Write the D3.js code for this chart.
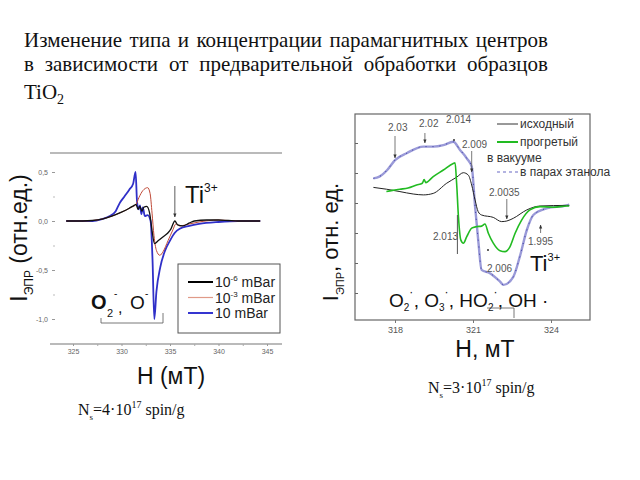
<!DOCTYPE html>
<html><head><meta charset="utf-8">
<script src="https://cdn.jsdelivr.net/npm/d3@7"></script>
<style>html,body{margin:0;padding:0;background:#fff;}svg{display:block;}</style>
</head><body>
<svg id="c" width="640" height="480"></svg>
<script>
// ---------- DATA ----------
const titleLines = ["Изменение типа и концентрации парамагнитных центров",
                    "в зависимости от предварительной обработки образцов"];
const leftXTicks = [325, 330, 335, 340, 345];
const leftYTicks = [0.5, 0, -0.5, -1];
const leftYMinor = [0.25, -0.25, -0.75];
const leftXMinor = [327.5, 332.5, 337.5, 342.5];
const leftLegend = [["-6", "#000", 2], ["-3", "#e09a88", 1.2], ["", "#3535d0", 2]];
// 10^-6 mBar
const leftBlack = [[324.3,0],[326,0],[327,0.005],[328,0.02],[329,0.05],[330,0.09],[330.8,0.13],[331.3,0.16],[331.5,0.17],[331.7,0.12],[331.9,0.15],[332.1,0.1],[332.3,0.14],[332.6,0.15],[332.9,0.08],[333.15,-0.1],[333.4,-0.23],[333.8,-0.2],[334.3,-0.16],[334.8,-0.12],[335.1,-0.08],[335.5,0.0],[335.8,-0.04],[336.3,-0.05],[337,-0.02],[337.5,0],[338.8,0.01],[340,0.01],[341,0.005],[342,0],[344.3,0]];
// 10^-3 mBar
const leftRed = [[324.3,0],[326,0],[327,0.005],[328,0.02],[329,0.05],[330,0.09],[331,0.14],[331.5,0.17],[331.8,0.24],[332.2,0.31],[332.7,0.34],[332.95,0.28],[333.15,0.08],[333.35,-0.15],[333.6,-0.3],[333.95,-0.35],[334.3,-0.31],[334.8,-0.2],[335.3,-0.09],[335.6,-0.03],[336,-0.05],[337,-0.03],[338,-0.01],[340,0.01],[342,0],[344.3,0]];
// 10 mBar
const leftBlue = [[324.3,0],[326,0],[327,0],[328,0.02],[328.8,0.05],[329.4,0.1],[329.8,0.18],[330.3,0.25],[330.8,0.32],[331.2,0.38],[331.45,0.5],[331.6,0.2],[331.75,0.12],[331.9,0.16],[332.05,0.07],[332.2,0.14],[332.4,0.05],[332.7,0.06],[333.0,0.0],[333.2,-0.4],[333.38,-1.0],[333.6,-0.72],[334,-0.47],[334.5,-0.3],[335,-0.2],[335.5,-0.12],[336,-0.08],[337,-0.05],[338,-0.03],[340,-0.01],[342,0],[344.3,0]];

const rightXTicks = [318, 321, 324];
const rightYTicks = [0, 1, 2, 3, 4, 5];
const rightLegend = [["исходный", "#333", 1, null], ["прогретый", "#22bb22", 2, null], ["в парах этанола", "#9a9ad8", 1.6, "3,3"]];
// исходный
const rightOrig = [[317.17,3.52],[317.67,3.46],[318.19,3.38],[318.7,3.3],[319.09,3.27],[319.47,3.32],[319.99,3.66],[320.37,3.86],[320.63,4.01],[320.82,3.93],[320.95,3.6],[321.08,3.1],[321.2,2.71],[321.33,2.6],[321.78,2.52],[322.1,2.38],[322.3,2.4],[322.55,2.49],[323.07,2.77],[323.58,2.9],[324.6,2.92],[324.7,2.92]];
// прогретый в вакууме
const rightGreen = [[317.67,3.38],[317.9,3.42],[318.19,3.46],[318.5,3.5],[318.83,3.6],[319.05,3.66],[319.12,3.78],[319.18,3.68],[319.47,3.88],[319.86,4.1],[320.24,4.32],[320.31,4.34],[320.37,3.66],[320.44,2.54],[320.53,1.77],[320.63,1.66],[320.76,1.88],[320.95,2.16],[321.13,2.21],[321.33,2.23],[321.46,2.3],[321.59,1.99],[321.78,1.66],[322.04,1.41],[322.23,1.38],[322.42,1.54],[322.62,1.99],[322.87,2.43],[323.19,2.77],[323.58,2.88],[324.09,2.86],[324.6,2.9],[324.7,2.9]];
// в парах этанола
const rightEth = [[317.17,3.82],[317.4,3.88],[317.7,4.1],[318.0,4.43],[318.45,4.66],[319.09,4.88],[319.47,4.88],[319.86,4.93],[320.24,5.04],[320.5,4.77],[320.76,4.49],[320.95,4.21],[321.08,2.88],[321.2,1.77],[321.33,0.77],[321.65,0.66],[322.04,0.38],[322.17,0.27],[322.55,0.54],[322.8,1.21],[323.07,2.1],[323.32,2.6],[323.83,2.82],[324.6,2.92],[324.7,2.95]];

// ---------- DRAW ----------
const svg = d3.select("#c");
const sans = "'Liberation Sans'";
const serif = "'Liberation Serif'";

// Title, justified lines
function justify(words, x0, x1, y, size) {
  const g = svg.append("g");
  const nodes = words.map(w => g.append("text").attr("y", y).style("font-family", serif)
    .attr("font-size", size).attr("fill", "#111").text(w));
  const widths = nodes.map(n => n.node().getComputedTextLength());
  const gap = (x1 - x0 - d3.sum(widths)) / (words.length - 1);
  let x = x0;
  nodes.forEach((n, i) => { n.attr("x", x); x += widths[i] + gap; });
}
justify(titleLines[0].split(" "), 24, 548, 47, 21);
justify(titleLines[1].split(" "), 24, 548, 71, 21);
const t3 = svg.append("text").attr("x", 24).attr("y", 99).style("font-family", serif).attr("font-size", 21).attr("fill", "#111");
t3.append("tspan").text("TiO");
t3.append("tspan").attr("dy", 5).attr("font-size", 14).text("2");

// ---------- LEFT CHART ----------
const lx = d3.scaleLinear().domain([325, 345]).range([73, 267]);
const ly = d3.scaleLinear().domain([0.5, -1]).range([172, 319]);
const L = svg.append("g");
L.append("line").attr("x1", 50).attr("x2", 282).attr("y1", 153).attr("y2", 153).attr("stroke", "#777").attr("stroke-width", 1.2);
L.append("line").attr("x1", 50).attr("x2", 282).attr("y1", 344).attr("y2", 344).attr("stroke", "#777").attr("stroke-width", 1.2);
const lxa = L.append("g").attr("transform", "translate(0,344)")
  .call(d3.axisBottom(lx).tickValues(leftXTicks).tickSize(2).tickPadding(3));
lxa.select(".domain").remove();
lxa.selectAll("text").style("font-family", sans).attr("font-size", 7).attr("fill", "#666");
lxa.selectAll("line").attr("stroke", "#999");
L.append("g").attr("transform", "translate(0,344)")
  .call(d3.axisBottom(lx).tickValues(leftXMinor).tickSize(2).tickFormat(""))
  .call(g => g.select(".domain").remove()).selectAll("line").attr("stroke", "#aaa");
const lya = L.append("g").attr("transform", "translate(55,0)")
  .call(d3.axisLeft(ly).tickValues(leftYTicks).tickSize(3).tickPadding(4)
    .tickFormat(d => d3.format(".1f")(d).replace(".", ",").replace("−", "-")));
lya.select(".domain").remove();
lya.selectAll("text").style("font-family", sans).attr("font-size", 7).attr("fill", "#666");
lya.selectAll("line").attr("stroke", "#999");
L.append("g").attr("transform", "translate(55,0)")
  .call(d3.axisLeft(ly).tickValues(leftYMinor).tickSize(2).tickFormat(""))
  .call(g => g.select(".domain").remove()).selectAll("line").attr("stroke", "#bbb");

const lline = d3.line().x(d => lx(d[0])).y(d => ly(d[1])).curve(d3.curveMonotoneX);
L.append("path").datum(leftBlue).attr("d", lline).attr("fill", "none").attr("stroke", "#3030c8").attr("stroke-width", 1.8);
L.append("path").datum(leftRed).attr("d", lline).attr("fill", "none").attr("stroke", "#c04a38").attr("stroke-width", 1.0);
L.append("path").datum(leftBlack).attr("d", lline).attr("fill", "none").attr("stroke", "#111").attr("stroke-width", 1.3);

// axis titles
L.append("text").attr("x", 171).attr("y", 384).attr("text-anchor", "middle").style("font-family", sans).attr("font-size", 23).attr("fill", "#111").text("H (мТ)");
const ylab = L.append("text").attr("transform", "translate(27,238) rotate(-90)").attr("text-anchor", "middle")
  .style("font-family", sans).attr("font-size", 23).attr("fill", "#111");
ylab.append("tspan").text("I");
ylab.append("tspan").attr("dy", 6).attr("font-size", 12).text("ЭПР");
ylab.append("tspan").attr("dy", -6).text(" (отн.ед.)");

// Ti3+ annotation
const defs = svg.append("defs");
defs.append("marker").attr("id", "ah").attr("viewBox", "0 0 10 10").attr("refX", 9).attr("refY", 5)
  .attr("markerWidth", 5).attr("markerHeight", 5).attr("orient", "auto")
  .append("path").attr("d", "M0,1 L10,5 L0,9 Z").attr("fill", "#333");
L.append("line").attr("x1", lx(335.5)).attr("x2", lx(335.5)).attr("y1", 186).attr("y2", 217).attr("stroke", "#333").attr("stroke-width", 0.8).attr("marker-end", "url(#ah)");
const ti = L.append("text").attr("x", 185).attr("y", 203).style("font-family", sans).attr("font-size", 24).attr("fill", "#111");
ti.append("tspan").text("Ti");
ti.append("tspan").attr("dy", -11).attr("font-size", 12).text("3+");

// O2-, O- annotation
const ann1 = (x, y, s, t, w) => L.append("text").attr("x", x).attr("y", y).style("font-family", sans).attr("font-size", s).attr("font-weight", w || "normal").attr("fill", "#111").text(t);
ann1(91, 309, 20, "O", "bold");
ann1(107, 317, 11, "2");
ann1(114, 297, 10, "-");
ann1(118, 313, 16, ",");
ann1(130, 309, 19, "O");
ann1(145, 297, 10, "-");
L.append("path").attr("d", "M101,318 V323 H163 V313").attr("fill", "none").attr("stroke", "#555").attr("stroke-width", 0.8);

// Legend left
L.append("rect").attr("x", 178).attr("y", 264).attr("width", 102).attr("height", 69).attr("fill", "#fff").attr("stroke", "#555").attr("stroke-width", 1);
leftLegend.forEach((d, i) => {
  const y = 282 + i * 15.5;
  L.append("line").attr("x1", 188).attr("x2", 213).attr("y1", y).attr("y2", y).attr("stroke", d[1]).attr("stroke-width", d[2]);
  const t = L.append("text").attr("x", 215).attr("y", y + 5).style("font-family", sans).attr("font-size", 14).attr("fill", "#222");
  t.append("tspan").text("10");
  if (d[0]) { t.append("tspan").attr("dy", -6).attr("font-size", 8).text(d[0]); t.append("tspan").attr("dy", 6).text(" mBar"); }
  else t.append("tspan").text("  mBar");
});

svg.append("text").attr("x", 78).attr("y", 415).style("font-family", serif).attr("font-size", 16).attr("fill", "#111")
  .call(t => { t.append("tspan").text("N"); t.append("tspan").attr("dy", 5).attr("font-size", 9).text("s");
               t.append("tspan").attr("dy", -5).text("=4·10"); t.append("tspan").attr("dy", -7).attr("font-size", 10).text("17");
               t.append("tspan").attr("dy", 7).text(" spin/g"); });

// ---------- RIGHT CHART ----------
const rx = d3.scaleLinear().domain([318, 324]).range([395, 551]);
const ry = d3.scaleLinear().domain([0, 5]).range([293, 143]);
const R = svg.append("g");
R.append("rect").attr("x", 355).attr("y", 114).attr("width", 235).attr("height", 206).attr("fill", "none").attr("stroke", "#666").attr("stroke-width", 1.2);
const rxa = R.append("g").attr("transform", "translate(0,320)")
  .call(d3.axisBottom(rx).tickValues(rightXTicks).tickSize(3).tickPadding(4).tickFormat(d3.format("d")));
rxa.select(".domain").remove();
rxa.selectAll("text").style("font-family", sans).attr("font-size", 9).attr("fill", "#555");
rxa.selectAll("line").attr("stroke", "#777");
const rya = R.append("g").attr("transform", "translate(355,0)")
  .call(d3.axisRight(ry).tickValues(rightYTicks).tickSize(3).tickFormat(""));
rya.select(".domain").remove();
rya.selectAll("line").attr("stroke", "#666");

const rline = d3.line().x(d => rx(d[0])).y(d => ry(d[1])).curve(d3.curveMonotoneX);
R.append("path").datum(rightEth).attr("d", rline).attr("fill", "none").attr("stroke", "#9a9ad8").attr("stroke-width", 2.4);
R.append("path").datum(rightEth).attr("d", rline).attr("fill", "none").attr("stroke", "#3a3aa0").attr("stroke-width", 1).attr("stroke-dasharray", "1,6");
R.append("path").datum(rightOrig).attr("d", rline).attr("fill", "none").attr("stroke", "#222").attr("stroke-width", 1);
R.append("path").datum(rightGreen).attr("d", rline).attr("fill", "none").attr("stroke", "#22bb22").attr("stroke-width", 1.6);

// legend right
rightLegend.forEach((d, i) => {
  const y = [124, 142, 172][i];
  R.append("line").attr("x1", 497).attr("x2", 518).attr("y1", y).attr("y2", y).attr("stroke", d[1]).attr("stroke-width", d[2]).attr("stroke-dasharray", d[3]);
  R.append("text").attr("x", 520).attr("y", y + 4).style("font-family", sans).attr("font-size", 12).attr("fill", "#333").text(d[0]);
});
R.append("text").attr("x", 487).attr("y", 162).style("font-family", sans).attr("font-size", 12).attr("fill", "#333").text("в вакууме");

// g-factor annotations
const ann = [["2.03", 388, 131], ["2.02", 419, 127], ["2.014", 446, 123], ["2.009", 462, 148], ["2.0035", 489, 196], ["2.013", 433, 240], ["1.995", 528, 245], ["2.006", 487, 272]];
ann.forEach(a => R.append("text").attr("x", a[1]).attr("y", a[2]).style("font-family", sans).attr("font-size", 10).attr("fill", "#555").text(a[0]));
const arrows = [[rx(318), 136, 158], [rx(319.15), 133, 143], [rx(320.95), 151, 172], [rx(322.3), 199, 219]];
arrows.forEach(a => R.append("line").attr("x1", a[0]).attr("x2", a[0]).attr("y1", a[1]).attr("y2", a[2]).attr("stroke", "#555").attr("stroke-width", 0.8).attr("marker-end", "url(#ah)"));
R.append("line").attr("x1", rx(320.4)).attr("x2", rx(320.4)).attr("y1", 215).attr("y2", 254).attr("stroke", "#555").attr("stroke-width", 1);
R.append("line").attr("x1", rx(323.6)).attr("x2", rx(323.6)).attr("y1", 233).attr("y2", 225).attr("stroke", "#555").attr("stroke-width", 0.8).attr("marker-end", "url(#ah)");
R.append("circle").attr("cx", 454).attr("cy", 140).attr("r", 1).attr("fill", "#333");
R.append("circle").attr("cx", 488).attr("cy", 250).attr("r", 1).attr("fill", "#333");
const ti2 = R.append("text").attr("x", 530).attr("y", 271).style("font-family", sans).attr("font-size", 22).attr("fill", "#111");
ti2.append("tspan").text("Ti");
ti2.append("tspan").attr("dy", -10).attr("font-size", 11).text("3+");

// radicals: O2·, O3·, HO2·, OH ·
const radParts = [["O", "2"], [", O", "3"], [", HO", "2"]];
const rad = R.append("text").attr("x", 389).attr("y", 307).style("font-family", sans).attr("font-size", 19).attr("fill", "#111");
radParts.forEach(p => {
  rad.append("tspan").text(p[0]);
  rad.append("tspan").attr("dy", 4).attr("font-size", 10).text(p[1]);
  rad.append("tspan").attr("dy", -15).attr("font-size", 12).text("·");
  rad.append("tspan").attr("dy", 11).attr("font-size", 1).text(" ");
});
rad.append("tspan").text(", OH ·");
R.append("path").attr("d", "M487,308 H514 V318").attr("fill", "none").attr("stroke", "#555").attr("stroke-width", 0.8);

R.append("text").attr("x", 485).attr("y", 357).attr("text-anchor", "middle").style("font-family", sans).attr("font-size", 23).attr("fill", "#111").text("H, мТ");
const ylab2 = R.append("text").attr("transform", "translate(338,242) rotate(-90)").attr("text-anchor", "middle")
  .style("font-family", sans).attr("font-size", 22).attr("fill", "#111");
ylab2.append("tspan").text("I");
ylab2.append("tspan").attr("dy", 6).attr("font-size", 11).text("ЭПР");
ylab2.append("tspan").attr("dy", -6).text(", отн. ед.");

svg.append("text").attr("x", 428).attr("y", 393).style("font-family", serif).attr("font-size", 16).attr("fill", "#111")
  .call(t => { t.append("tspan").text("N"); t.append("tspan").attr("dy", 5).attr("font-size", 9).text("s");
               t.append("tspan").attr("dy", -5).text("=3·10"); t.append("tspan").attr("dy", -7).attr("font-size", 10).text("17");
               t.append("tspan").attr("dy", 7).text(" spin/g"); });
</script>
</body></html>
